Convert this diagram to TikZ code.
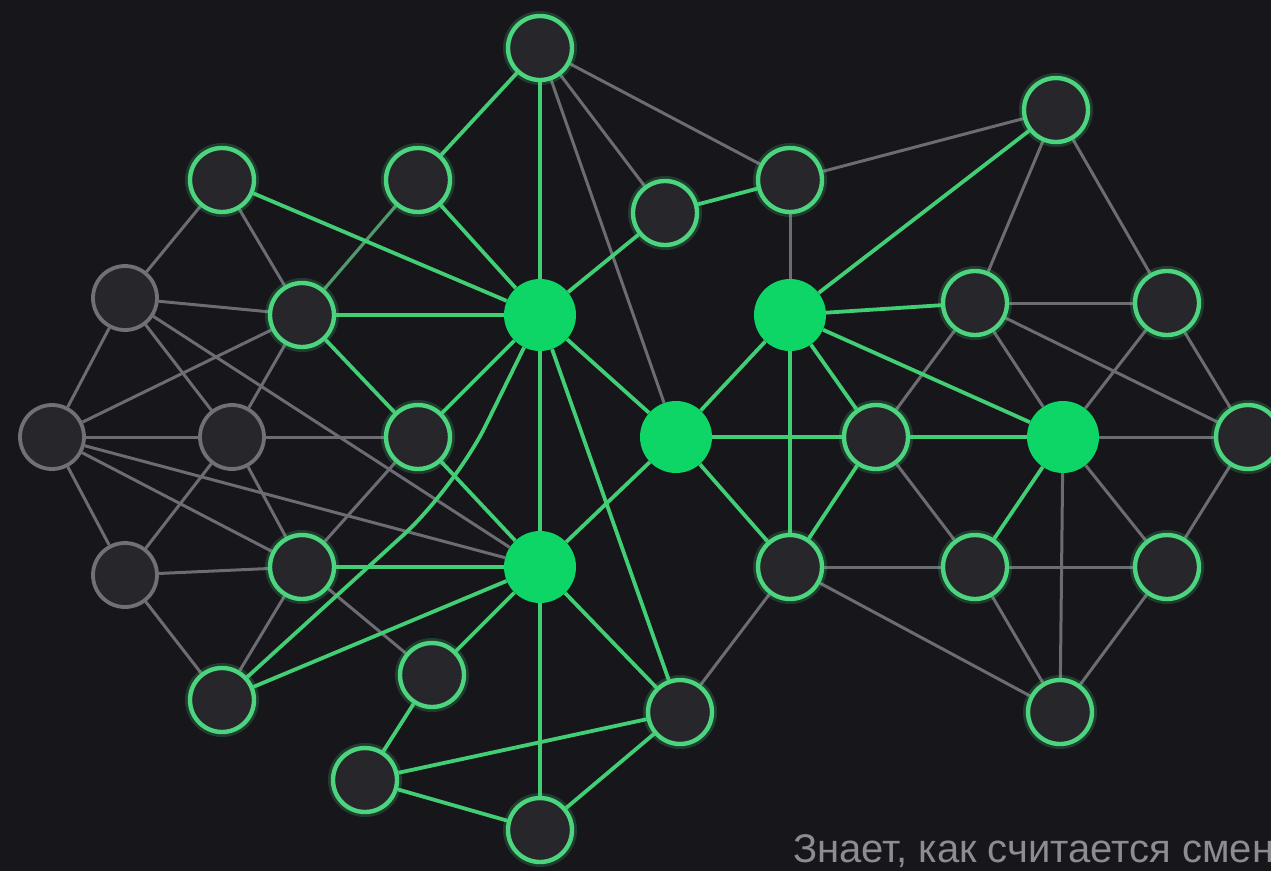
\documentclass[tikz,border=0pt]{standalone}
\usepackage{fontspec}
\setmainfont{Liberation Sans}
\pgfdeclarelayer{bgl}
\pgfdeclarelayer{edges}
\pgfsetlayers{bgl,edges,main}
\definecolor{bgc}{RGB}{22,22,27}
\definecolor{nfill}{RGB}{38,38,43}
\definecolor{ngreen}{RGB}{76,212,126}
\definecolor{egreen}{RGB}{66,206,116}
\definecolor{hgreen}{RGB}{14,214,102}
\definecolor{ngray}{RGB}{112,112,118}
\definecolor{egray}{RGB}{108,108,114}
\definecolor{dimgreen}{RGB}{82,152,108}
\definecolor{tgray}{RGB}{140,140,146}
\begin{document}
\begin{tikzpicture}[x=1pt,y=-1pt,
  nd/.style={circle,minimum size=64pt,inner sep=0pt,line width=4.4pt,draw=ngreen,fill=nfill,
    preaction={draw=ngreen,line width=10pt,draw opacity=0.2}},
  gnd/.style={circle,minimum size=64pt,inner sep=0pt,line width=3.8pt,draw=ngray,fill=nfill},
  hub/.style={circle,minimum size=72pt,inner sep=0pt,fill=hgreen,draw=none},
  ge/.style={draw=egreen,line width=3.8pt},
  de/.style={draw=dimgreen,line width=3.2pt},
  ye/.style={draw=egray,line width=3pt}]
\begin{pgfonlayer}{bgl}
\fill[bgc] (0,0) rectangle (1271,871);
\end{pgfonlayer}
\useasboundingbox (0,0) rectangle (1271,871);

% nodes
\node[nd] (A) at (540,48) {};
\node[nd] (B) at (222,180) {};
\node[nd] (C) at (418,180) {};
\node[nd] (D) at (665,213) {};
\node[nd] (E) at (790,180) {};
\node[nd] (F) at (1056,110) {};
\node[gnd] (G) at (125,298) {};
\node[nd] (H) at (302,315) {};
\node[hub] (I) at (540,315) {};
\node[hub] (J) at (790,315) {};
\node[nd] (K) at (975,303) {};
\node[nd] (L) at (1167,303) {};
\node[gnd] (M) at (52,437) {};
\node[gnd] (N) at (232,437) {};
\node[nd] (O) at (418,437) {};
\node[hub] (P) at (676,437) {};
\node[nd] (Q) at (876,437) {};
\node[hub] (R) at (1063,437) {};
\node[nd] (S) at (1248,437) {};
\node[gnd] (T) at (125,575) {};
\node[nd] (U) at (302,567) {};
\node[hub] (V) at (540,567) {};
\node[nd] (W) at (790,567) {};
\node[nd] (X) at (975,567) {};
\node[nd] (Y) at (1167,567) {};
\node[nd] (Z) at (222,700) {};
\node[nd] (AA) at (432,675) {};
\node[nd] (AB) at (680,712) {};
\node[nd] (AC) at (1060,712) {};
\node[nd] (AD) at (365,780) {};
\node[nd] (AE) at (540,830) {};
\coordinate (zbend) at (455,488);

\node[anchor=base west,text=tgray,font=\fontsize{40}{44}\selectfont,inner sep=0pt] (cap) at (793,862) {Знает, как считается смен};

\begin{pgfonlayer}{edges}
% gray edges
\foreach \a/\b in {B/G,B/H,G/H,G/M,G/N,G/V,M/H,N/H,M/N,N/O,M/T,M/U,M/V,N/T,N/U,T/U,T/Z,U/Z,O/U,U/AA,
  A/P,A/D,A/E,E/J,E/F,F/K,F/L,K/L,K/Q,K/R,K/S,L/R,L/S,R/S,Q/X,R/AC,R/Y,S/Y,W/X,X/Y,X/AC,Y/AC,W/AC,W/AB}
  \draw[ye] (\a) -- (\b);
% dim green edge
\draw[de] (C) -- (H);
% green edges
\foreach \a/\b in {B/I,H/I,H/O,A/C,A/I,C/I,D/I,D/E,O/I,I/V,I/AB,I/P,Z/V,U/V,AA/V,O/V,AA/AD,AD/AB,AD/AE,
  V/AE,AE/AB,V/AB,P/V,P/J,P/Q,P/W,J/F,J/K,J/Q,J/W,J/R,Q/W,Q/R,R/X}
  \draw[ge] (\a) -- (\b);
\draw[ge,rounded corners=70pt] (Z) -- (zbend) -- (I);
\end{pgfonlayer}
\end{tikzpicture}
\end{document}
